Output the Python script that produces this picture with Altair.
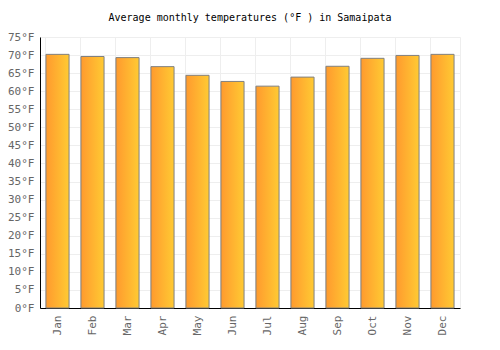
import altair as alt
import pandas as pd

months = ["Jan", "Feb", "Mar", "Apr", "May", "Jun", "Jul", "Aug", "Sep", "Oct", "Nov", "Dec"]
temps = [70.2, 69.6, 69.3, 66.8, 64.4, 62.7, 61.4, 63.9, 66.9, 69.1, 69.9, 70.2]

df = pd.DataFrame({"month": months, "temp": temps})

FONT = "DejaVu Sans Mono"

grad = alt.Gradient(
    gradient="linear",
    stops=[alt.GradientStop(color="#ff9a2e", offset=0), alt.GradientStop(color="#ffca33", offset=1)],
    x1=0, x2=1, y1=0, y2=0,
)

chart = (
    alt.Chart(df)
    .mark_bar(color=grad, stroke="#808080", strokeWidth=1)
    .encode(
        x=alt.X(
            "month:N",
            sort=months,
            scale=alt.Scale(paddingInner=0.34, paddingOuter=0.17),
            axis=alt.Axis(
                title=None,
                labelAngle=-90,
                labelAlign="right",
                labelBaseline="middle",
                labelColor="#666666",
                labelFont=FONT,
                labelFontSize=11,
                labelPadding=7,
                ticks=False,
                grid=True,
                gridColor="#eeeeee",
                bandPosition=0,
                domainColor="#000000",
            ),
        ),
        y=alt.Y(
            "temp:Q",
            scale=alt.Scale(domain=[0, 75]),
            axis=alt.Axis(
                title=None,
                values=list(range(0, 80, 5)),
                labelExpr="datum.value + '°F'",
                labelColor="#666666",
                labelFont=FONT,
                labelFontSize=11,
                labelPadding=6,
                ticks=False,
                grid=True,
                gridColor="#eeeeee",
                domainColor="#000000",
            ),
        ),
    )
    .properties(
        width=420,
        height=271,
        title=alt.TitleParams(
            "Average monthly temperatures (°F ) in Samaipata",
            font=FONT,
            fontSize=10,
            fontWeight="normal",
            color="#000000",
            offset=8,
        ),
        autosize=alt.AutoSizeParams(type="none"),
        padding={"left": 40, "top": 37, "right": 40, "bottom": 42},
    )
    .configure_view(stroke="#eeeeee")
)

chart.save("out.html", embed_options={"renderer": "svg", "actions": False})
